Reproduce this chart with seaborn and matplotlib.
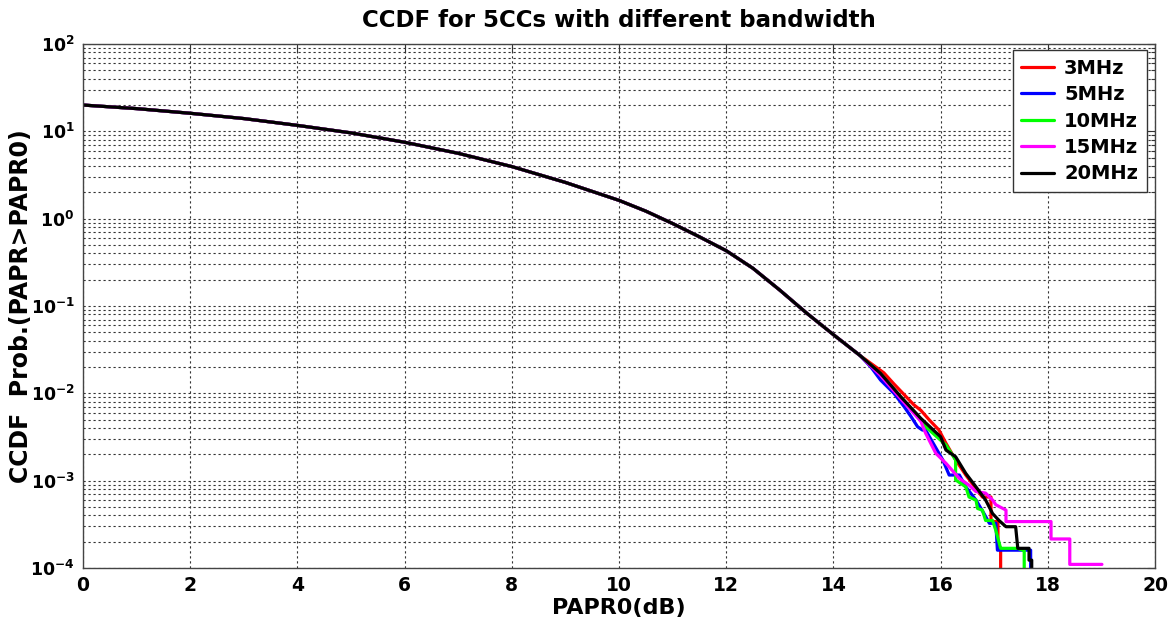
import numpy as np
import pandas as pd
import matplotlib
matplotlib.use("Agg")
import matplotlib.pyplot as plt
import seaborn as sns

# ---------------- data ----------------
SERIES = ["3MHz", "5MHz", "10MHz", "15MHz", "20MHz"]
COLORS = ["#ff0000", "#0000ff", "#00ff00", "#ff00ff", "#000000"]

# shared body of the CCDF curves (all bandwidths overlap here)
BODY_X = [0, 1, 2, 3, 4, 5, 6, 7, 8, 9, 10, 10.5, 11, 11.5, 12, 12.5, 13, 13.5, 14, 14.5]
BODY_Y = [20, 18.2, 16.1, 14.0, 11.7, 9.6, 7.5, 5.6, 3.95, 2.6, 1.62, 1.22, 0.88, 0.62,
          0.43, 0.27, 0.152, 0.083, 0.047, 0.027]

# individual tails
TAIL_X_3 = [14.94, 15.13, 15.50, 15.63, 15.79, 15.97, 16.10, 16.28, 16.47, 16.78, 16.94, 16.94,
            17.07, 17.07, 17.12, 17.12]
TAIL_Y_3 = [0.0172, 0.0128, 0.0074, 0.0064, 0.00495, 0.0038, 0.00268, 0.00173, 0.00116, 6.5e-4,
            6.5e-4, 3.4e-4, 3.4e-4, 1.7e-4, 1.7e-4, 5e-5]

TAIL_X_5 = [14.70, 14.88, 15.13, 15.32, 15.45, 15.57, 15.66, 15.72, 16.04, 16.16, 16.35, 16.47,
            16.66, 16.81, 16.91, 17.03, 17.06, 17.68, 17.68]
TAIL_Y_5 = [0.0200, 0.0142, 0.0100, 0.00703, 0.0054, 0.00415, 0.0038, 0.0038, 0.00173, 0.00116,
            0.00116, 8.5e-4, 6.0e-4, 4.2e-4, 3.25e-4, 3.25e-4, 1.6e-4, 1.6e-4, 5e-5]

TAIL_X_10 = [14.88, 15.26, 15.63, 15.72, 16.10, 16.28, 16.28, 16.47, 16.53, 16.66, 16.69, 16.78,
             16.84, 16.97, 17.03, 17.12, 17.44, 17.53, 17.56, 17.56]
TAIL_Y_10 = [0.0167, 0.0090, 0.0050, 0.00415, 0.00256, 0.00173, 0.00102, 8.5e-4, 6.5e-4, 6.0e-4,
             4.8e-4, 4.6e-4, 3.5e-4, 3.5e-4, 2.7e-4, 1.68e-4, 1.68e-4, 1.6e-4, 1.6e-4, 5e-5]

TAIL_X_15 = [14.88, 15.26, 15.63, 15.72, 15.91, 16.10, 16.35, 16.53, 16.66, 16.84, 16.97, 17.03,
             17.22, 17.22, 18.06, 18.06, 18.41, 18.41, 19.01]
TAIL_Y_15 = [0.0160, 0.0086, 0.0048, 0.0035, 0.00206, 0.00158, 0.00106, 8.9e-4, 7.5e-4, 7.2e-4,
             6.0e-4, 5.3e-4, 4.6e-4, 3.4e-4, 3.4e-4, 2.15e-4, 2.15e-4, 1.1e-4, 1.1e-4]

TAIL_X_20 = [14.88, 15.26, 15.63, 16.00, 16.10, 16.28, 16.47, 16.66, 16.84, 16.97, 17.09, 17.22,
             17.40, 17.44, 17.65, 17.65, 17.70, 17.70]
TAIL_Y_20 = [0.0169, 0.0091, 0.00518, 0.00318, 0.00224, 0.00188, 0.00121, 8.5e-4, 6.0e-4, 4.2e-4,
             3.5e-4, 2.97e-4, 2.97e-4, 1.68e-4, 1.68e-4, 1.23e-4, 1.23e-4, 5e-5]

TAILS = {
    "3MHz": (TAIL_X_3, TAIL_Y_3),
    "5MHz": (TAIL_X_5, TAIL_Y_5),
    "10MHz": (TAIL_X_10, TAIL_Y_10),
    "15MHz": (TAIL_X_15, TAIL_Y_15),
    "20MHz": (TAIL_X_20, TAIL_Y_20),
}

X_TICKS = [0, 2, 4, 6, 8, 10, 12, 14, 16, 18, 20]
Y_TICKS = [1e-4, 1e-3, 1e-2, 1e-1, 1e0, 1e1, 1e2]
Y_TICK_LABELS = [r"$\mathbf{10^{-4}}$", r"$\mathbf{10^{-3}}$", r"$\mathbf{10^{-2}}$",
                 r"$\mathbf{10^{-1}}$", r"$\mathbf{10^{0}}$", r"$\mathbf{10^{1}}$",
                 r"$\mathbf{10^{2}}$"]

TITLE = "CCDF for 5CCs with different bandwidth"
XLABEL = "PAPR0(dB)"
YLABEL = "CCDF  Prob.(PAPR>PAPR0)"

# ---------------- build frame ----------------
rows = []
for name in SERIES:
    tx, ty = TAILS[name]
    xs = list(BODY_X) + list(tx)
    ys = list(BODY_Y) + list(ty)
    for i, (xv, yv) in enumerate(zip(xs, ys)):
        rows.append({"PAPR0": xv, "CCDF": yv, "bw": name, "order": i})
df = pd.DataFrame(rows)

# ---------------- style ----------------
sns.set_theme(style="white")
plt.rcParams["font.family"] = ["DejaVu Sans"]
plt.rcParams["font.weight"] = "bold"
plt.rcParams["mathtext.fontset"] = "dejavusans"
plt.rcParams["text.color"] = "black"
plt.rcParams["axes.labelcolor"] = "black"
plt.rcParams["xtick.color"] = "black"
plt.rcParams["ytick.color"] = "black"

fig = plt.figure(figsize=(11.73, 6.19), dpi=100)
ax = fig.add_axes([83 / 1173, 1 - 568 / 619, (1155 - 83) / 1173, (568 - 44) / 619])

sns.lineplot(data=df, x="PAPR0", y="CCDF", hue="bw", hue_order=SERIES,
             palette=dict(zip(SERIES, COLORS)), sort=False, estimator=None,
             linewidth=2.3, ax=ax)

ax.set_yscale("log")
ax.set_xlim(0, 20)
ax.set_ylim(1e-4, 1e2)
ax.set_xticks(X_TICKS)
ax.set_xticklabels([str(t) for t in X_TICKS], fontsize=13.5, fontweight="bold")
ax.set_yticks(Y_TICKS)
ax.set_yticklabels(Y_TICK_LABELS, fontsize=12.5)
ax.yaxis.set_minor_locator(matplotlib.ticker.LogLocator(base=10, subs=np.arange(2, 10)))
ax.yaxis.set_minor_formatter(matplotlib.ticker.NullFormatter())

ax.grid(True, which="major", axis="both", color="#333333", linestyle=(0, (2, 2.5)), linewidth=0.8)
ax.grid(True, which="minor", axis="y", color="#333333", linestyle=(0, (2, 2.5)), linewidth=0.8)

ax.tick_params(which="both", direction="in", top=True, right=True, colors="#333333",
               labelcolor="black")
ax.tick_params(which="major", length=6, width=0.8, pad=6)
ax.tick_params(which="minor", length=3, width=0.8)
for s in ax.spines.values():
    s.set_color("#444444")
    s.set_linewidth(1.0)
    s.set_visible(True)

ax.set_title(TITLE, fontsize=16.5, fontweight="bold", pad=12, color="black")
ax.set_xlabel(XLABEL, fontsize=16, fontweight="bold", labelpad=2)
ax.set_ylabel(YLABEL, fontsize=17, fontweight="bold")
ax.yaxis.set_label_coords((33 - 83) / 1072, 0.5)

leg = ax.legend(loc="upper right", bbox_to_anchor=(1 - 8 / 1072, 1 - 6 / 524),
                fontsize=14, frameon=True, fancybox=False, edgecolor="#333333",
                framealpha=1, handlelength=1.7, handletextpad=0.5, borderpad=0.45,
                labelspacing=0.38, borderaxespad=0)
for t in leg.get_texts():
    t.set_fontweight("bold")
leg.get_frame().set_linewidth(1.0)

fig.savefig("out.png", dpi=100, facecolor="white")
